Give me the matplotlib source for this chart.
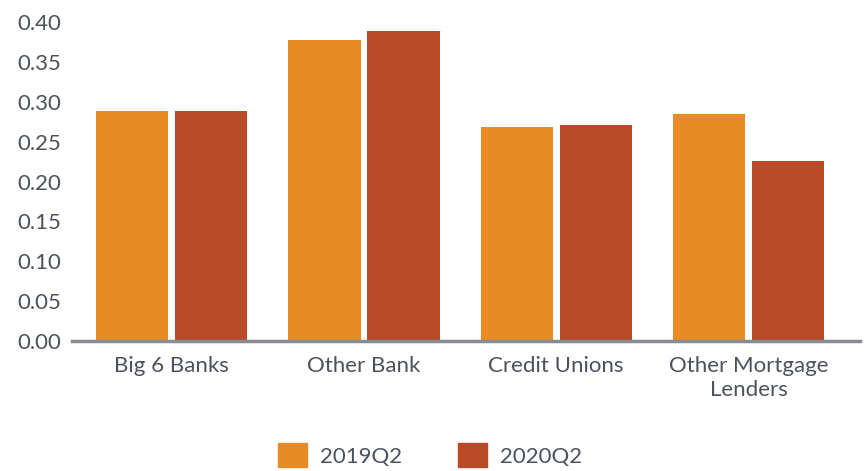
import matplotlib.pyplot as plt
import numpy as np
from matplotlib.patches import Patch

categories = ["Big 6 Banks", "Other Bank", "Credit Unions", "Other Mortgage\nLenders"]
series_names = ["2019Q2", "2020Q2"]
values_2019 = [0.288, 0.377, 0.268, 0.285]
values_2020 = [0.288, 0.389, 0.271, 0.226]
yticks = [0.00, 0.05, 0.10, 0.15, 0.20, 0.25, 0.30, 0.35, 0.40]

orange = "#E98B25"
rust = "#B84A27"
text_col = "#4C525C"

plt.rcParams['font.family'] = ['Lato', 'DejaVu Sans']

fig = plt.figure(figsize=(8.66, 4.71), dpi=100)
ax = fig.add_axes([0.083, 0.276, 0.910, 0.677])

x = np.arange(len(categories))
w = 0.375
gap = 0.018
ax.bar(x - w / 2 - gap, values_2019, w, color=orange)
ax.bar(x + w / 2 + gap, values_2020, w, color=rust)

ax.set_xlim(-0.52, 3.58)
ax.set_ylim(0, 0.40)
ax.set_yticks(yticks)
ax.set_yticklabels([f"{t:.2f}" for t in yticks])
ax.set_xticks(x)
ax.set_xticklabels(categories)

for s in ["top", "right", "left"]:
    ax.spines[s].set_visible(False)
ax.spines["bottom"].set_color("#888B91")
ax.spines["bottom"].set_linewidth(2.5)
ax.tick_params(axis="both", length=0, labelsize=16, colors=text_col)
ax.tick_params(axis="y", pad=8)
ax.tick_params(axis="x", pad=11)
for lab in ax.get_xticklabels():
    lab.set_linespacing(1.25)

handles = [Patch(color=orange), Patch(color=rust)]
leg = fig.legend(handles, series_names, loc="lower center", ncol=2, frameon=False,
                 bbox_to_anchor=(0.497, -0.035), fontsize=16, handlelength=1.3,
                 handleheight=1.3, handletextpad=0.6, columnspacing=2.5)
for t in leg.get_texts():
    t.set_color(text_col)

fig.savefig("out.png", dpi=100)
